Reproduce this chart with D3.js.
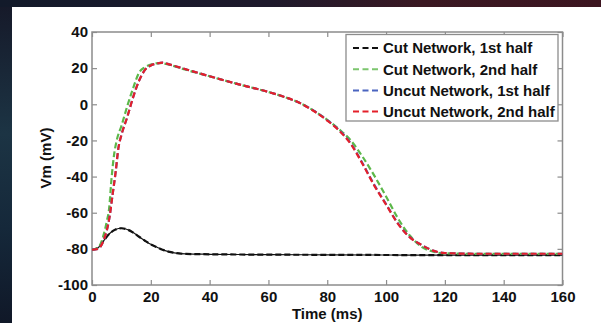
<!DOCTYPE html>
<html><head><meta charset="utf-8">
<script src="https://cdn.jsdelivr.net/npm/d3@7"></script>
<style>body{margin:0;background:#141a28;} svg{display:block;}</style>
</head><body>
<svg id="c" width="601" height="323"></svg>
<script>
const seriesNames = ["Cut Network, 1st half","Cut Network, 2nd half","Uncut Network, 1st half","Uncut Network, 2nd half"];
const seriesColors = ["#111111","#5cb84a","#4a64c0","#e4202a"];
const xTicks = [0,20,40,60,80,100,120,140,160];
const yTicks = [-100,-80,-60,-40,-20,0,20,40];

const cut1T = [0,2,4,6,8,10,12,14,16,18,20,22,24,26,28,32,40,60,80,100,120,140,160];
const cut1V = [-80.5,-79.5,-75.5,-71.5,-69.3,-68.6,-69.3,-71,-73.3,-75.5,-77.5,-79,-80.5,-81.5,-82.2,-82.8,-83,-83.2,-83.3,-83.4,-83.5,-83.5,-83.5];

const cut2T = [0,2,3,4,5,5.8,6.7,7.5,8.4,10,12,14,16,18,20,23,26,30,40,50,60,65,70,75,80,84,88,92,96,100,104,108,112,116,120,130,160];
const cut2V = [-80.5,-79.5,-77,-72,-65,-58,-40,-28,-20,-12,-1,9,17.5,20.5,22,22.8,22,20,15.5,11,6.8,4.3,1.2,-3.1,-8.6,-13.8,-20,-29,-39.5,-51,-63,-72.5,-78.8,-81.5,-82.5,-82.8,-82.8];

const uncut1T = [0,2,3,4,5,6,7,8,9,10,12,14,16,18,20,22,24,26,30,40,50,60,65,70,75,80,84,88,92,96,100,104,108,112,116,120,130,160];
const uncut1V = [-80.5,-80,-78.5,-75,-70,-62,-50,-38,-24,-17,-7,4,13,19,21.5,22.5,23,22.2,20.3,15.5,11,6.8,4.3,1.2,-3.1,-8.8,-14.2,-21.6,-32.6,-44.6,-55.2,-65.8,-73.4,-77.8,-81,-82.3,-82.7,-82.7];

const uncut2T = [0,2,3,4,5,6,7,8,9,10,12,14,16,18,20,22,24,26,30,40,50,60,65,70,75,80,84,88,92,96,100,104,108,112,116,120,130,160];
const uncut2V = [-80.5,-80,-78.5,-75,-70,-62,-50,-38,-24,-17,-7,4,13,19,21.5,22.5,23,22.2,20.3,15.5,11,6.8,4.3,1.2,-3.3,-9,-14.5,-22,-33,-45,-55.5,-66,-73.5,-77.8,-81,-82.3,-82.7,-82.7];

const seriesT = [cut1T,cut2T,uncut1T,uncut2T];
const seriesV = [cut1V,cut2V,uncut1V,uncut2V];

const svg = d3.select("#c");
const defs = svg.append("defs");
const g1 = defs.append("linearGradient").attr("id","topg").attr("x1","0").attr("x2","1").attr("y1","0").attr("y2","0");
g1.append("stop").attr("offset","0").attr("stop-color","#121a2a");
g1.append("stop").attr("offset","0.45").attr("stop-color","#1e1a2c");
g1.append("stop").attr("offset","0.7").attr("stop-color","#3a1822");
g1.append("stop").attr("offset","1").attr("stop-color","#3c1520");
const g2 = defs.append("linearGradient").attr("id","leftg").attr("x1","0").attr("x2","0").attr("y1","0").attr("y2","1");
g2.append("stop").attr("offset","0").attr("stop-color","#161a2a");
g2.append("stop").attr("offset","0.4").attr("stop-color","#1c3444");
g2.append("stop").attr("offset","0.7").attr("stop-color","#15283a");
g2.append("stop").attr("offset","1").attr("stop-color","#101828");
svg.append("rect").attr("width",601).attr("height",323).attr("fill","url(#topg)");
svg.append("rect").attr("x",0).attr("y",7).attr("width",12).attr("height",316).attr("fill","url(#leftg)");
svg.append("rect").attr("x",12).attr("y",7).attr("width",589).attr("height",316).attr("fill","#ffffff");

const L = 92, R = 562.5, T = 32, B = 285;
const x = d3.scaleLinear().domain([0,160]).range([L,R]);
const y = d3.scaleLinear().domain([-100,40]).range([B,T]);
const font = "'Liberation Sans', Arial, Helvetica, sans-serif";
const axisCol = "#8c8c8c";
const fmt = d => String(d);

function styleAxis(sel){
  sel.select(".domain").remove();
  sel.selectAll(".tick line").attr("stroke",axisCol).attr("stroke-width",1.2);
  sel.selectAll(".tick text").attr("fill","#111").attr("font-family",font).attr("font-weight","bold").attr("font-size","15px");
}
svg.append("g").attr("transform",`translate(0,${B})`)
  .call(d3.axisBottom(x).tickValues(xTicks).tickSizeInner(-5).tickSizeOuter(0).tickPadding(6).tickFormat(fmt)).call(styleAxis);
svg.append("g").attr("transform",`translate(${L},0)`)
  .call(d3.axisLeft(y).tickValues(yTicks).tickSizeInner(-5).tickSizeOuter(0).tickPadding(4).tickFormat(fmt)).call(styleAxis);
svg.append("g").attr("transform",`translate(0,${T})`)
  .call(d3.axisTop(x).tickValues(xTicks).tickSizeInner(-5).tickSizeOuter(0).tickFormat("")).call(styleAxis);
svg.append("g").attr("transform",`translate(${R},0)`)
  .call(d3.axisRight(y).tickValues(yTicks).tickSizeInner(-5).tickSizeOuter(0).tickFormat("")).call(styleAxis);
svg.append("rect").attr("x",L).attr("y",T).attr("width",R-L).attr("height",B-T)
  .attr("fill","none").attr("stroke",axisCol).attr("stroke-width",1.5);

const line = d3.line().x(d=>x(d[0])).y(d=>y(d[1])).curve(d3.curveMonotoneX);
const clip = defs.append("clipPath").attr("id","pc");
clip.append("rect").attr("x",L).attr("y",T).attr("width",R-L).attr("height",B-T);
const plot = svg.append("g").attr("clip-path","url(#pc)");
plot.append("path").datum(d3.zip(seriesT[0],seriesV[0])).attr("d",line)
  .attr("fill","none").attr("stroke",seriesColors[0]).attr("stroke-width",1.2);
seriesNames.forEach((n,i)=>{
  plot.append("path").datum(d3.zip(seriesT[i],seriesV[i])).attr("d",line)
    .attr("fill","none").attr("stroke",seriesColors[i]).attr("stroke-width",2.2)
    .attr("stroke-dasharray","6,3");
});

// legend
const lg = svg.append("g");
lg.append("rect").attr("x",346).attr("y",34.5).attr("width",212).attr("height",86.5)
  .attr("fill","#fff").attr("stroke",axisCol).attr("stroke-width",1.3);
seriesNames.forEach((n,i)=>{
  const yy = 48 + i*21.2;
  lg.append("line").attr("x1",353).attr("x2",381).attr("y1",yy).attr("y2",yy)
    .attr("stroke",seriesColors[i]).attr("stroke-width",2).attr("stroke-dasharray","6,3.5")
    .attr("opacity", i===1?0.8:1);
  lg.append("text").attr("x",383).attr("y",yy).attr("dy","0.36em").text(n)
    .attr("font-family",font).attr("font-weight","bold").attr("font-size","15px").attr("fill","#111");
});

svg.append("text").attr("x",(L+R)/2).attr("y",319).attr("text-anchor","middle").text("Time (ms)")
  .attr("font-family",font).attr("font-weight","bold").attr("font-size","15px").attr("fill","#111");
svg.append("text").attr("transform","translate(51,158) rotate(-90)").attr("text-anchor","middle").text("Vm (mV)")
  .attr("font-family",font).attr("font-weight","bold").attr("font-size","15px").attr("fill","#111");
</script>
</body></html>
